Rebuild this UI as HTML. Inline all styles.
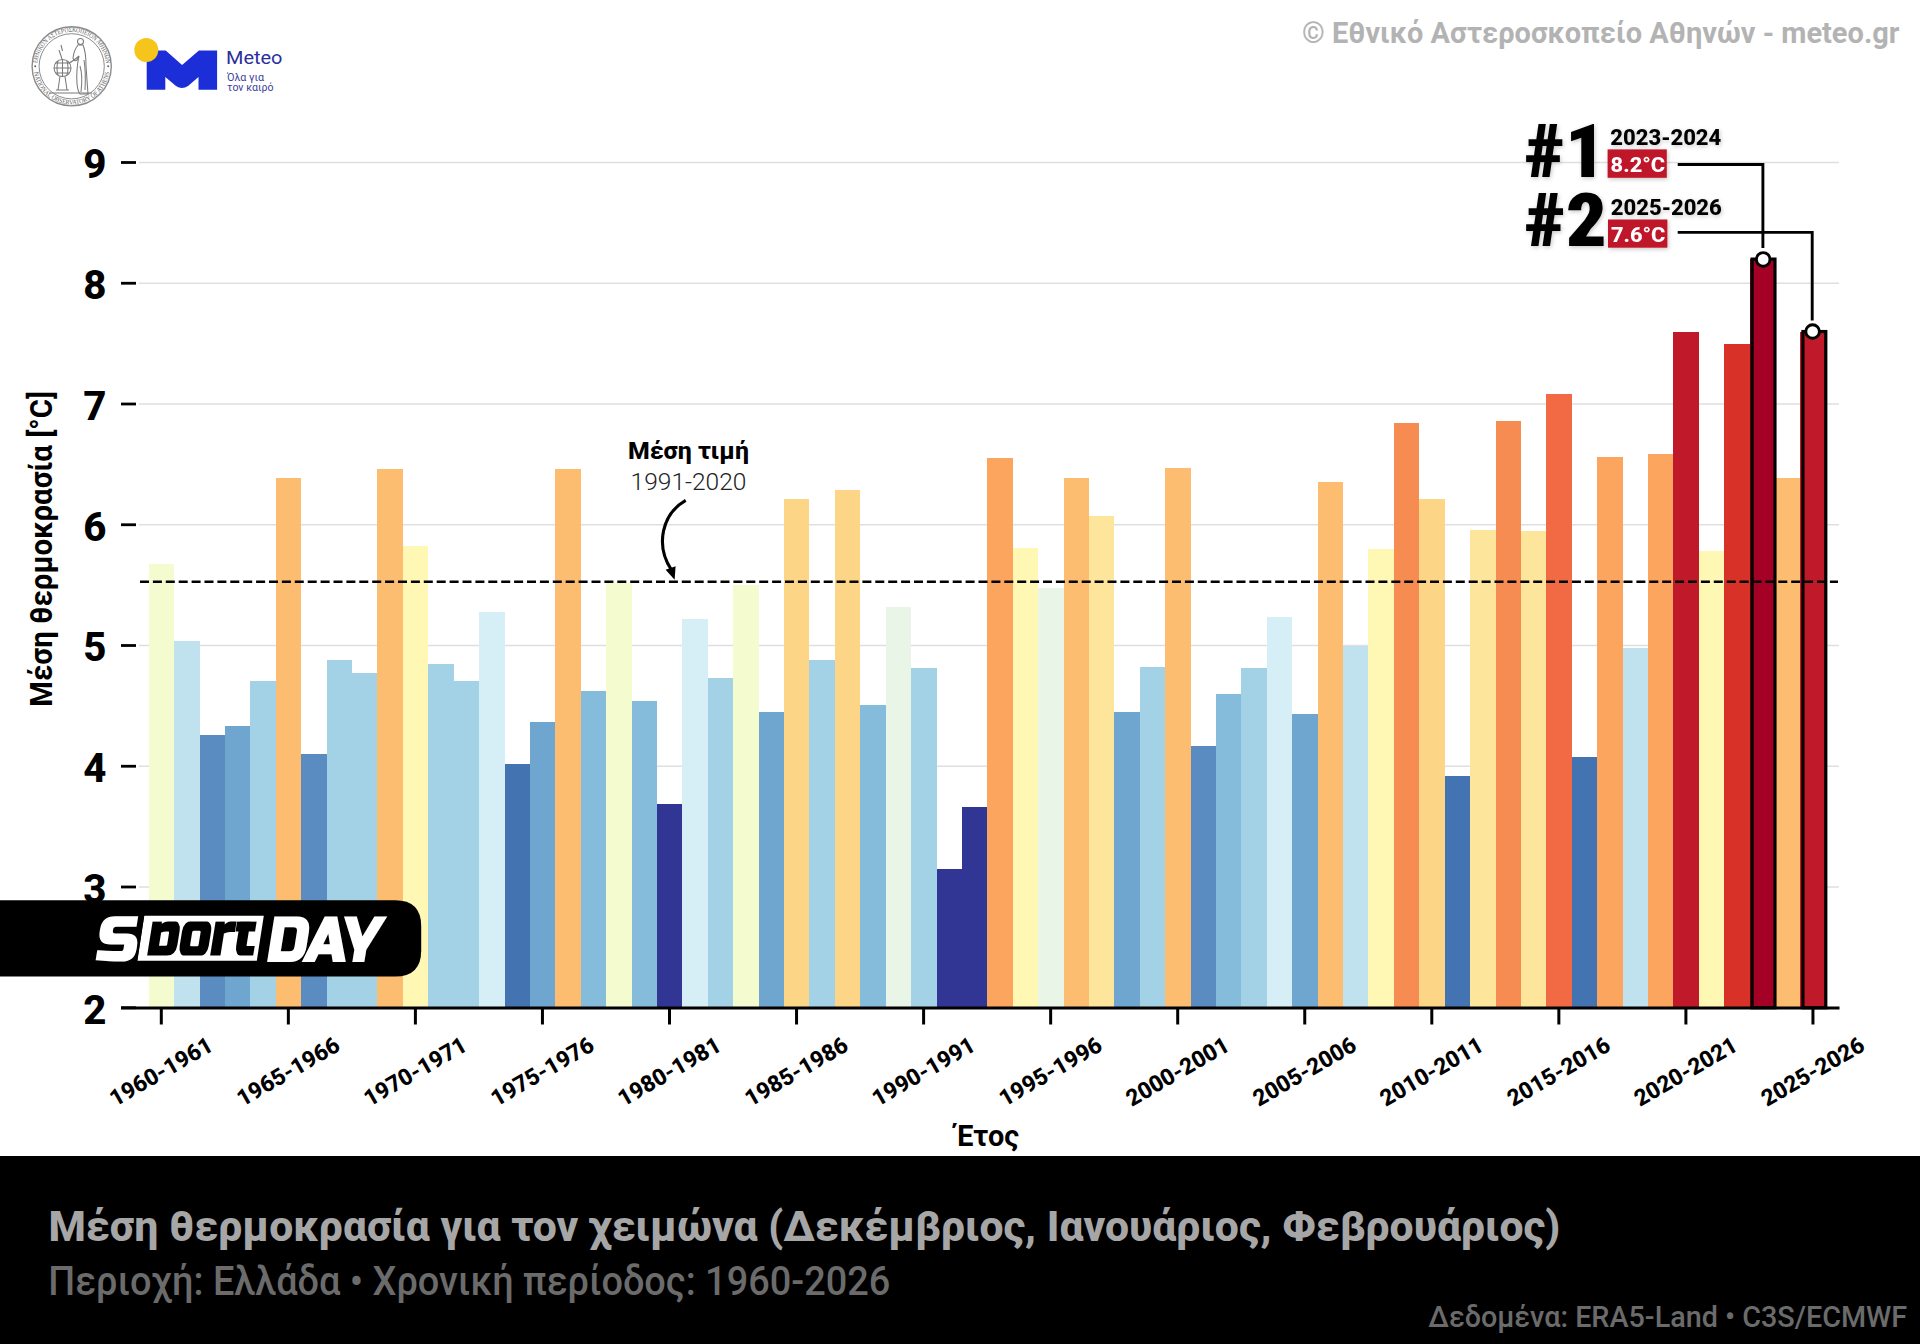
<!DOCTYPE html>
<html lang="el"><head><meta charset="utf-8"><title>Μέση θερμοκρασία χειμώνα</title>
<style>
html,body{margin:0;padding:0;background:#fff;}
body{width:1920px;height:1344px;overflow:hidden;position:relative;}
svg{position:absolute;left:0;top:0;display:block;}
.ytick{font-family:"Roboto","Liberation Sans",sans-serif;font-weight:800;font-size:40.5px;fill:#000;}
.xtick{font-family:"Roboto","Liberation Sans",sans-serif;font-weight:800;font-size:23px;fill:#000;}
.lab{font-family:"Roboto Condensed","Liberation Sans",sans-serif;font-weight:700;fill:#000;}
.rob{font-family:"Roboto","Liberation Sans",sans-serif;}
.robc{font-family:"Roboto Condensed","Liberation Sans",sans-serif;}
</style></head>
<body>
<svg width="1920" height="1344" viewBox="0 0 1920 1344">
<rect x="0" y="0" width="1920" height="1344" fill="#fff"/>
<line x1="139" y1="887.00" x2="1839" y2="887.00" stroke="#dfdfdf" stroke-width="1.6"/>
<line x1="139" y1="766.25" x2="1839" y2="766.25" stroke="#dfdfdf" stroke-width="1.6"/>
<line x1="139" y1="645.50" x2="1839" y2="645.50" stroke="#dfdfdf" stroke-width="1.6"/>
<line x1="139" y1="524.75" x2="1839" y2="524.75" stroke="#dfdfdf" stroke-width="1.6"/>
<line x1="139" y1="404.00" x2="1839" y2="404.00" stroke="#dfdfdf" stroke-width="1.6"/>
<line x1="139" y1="283.25" x2="1839" y2="283.25" stroke="#dfdfdf" stroke-width="1.6"/>
<line x1="139" y1="162.50" x2="1839" y2="162.50" stroke="#dfdfdf" stroke-width="1.6"/>
<rect x="148.79" y="563.99" width="25.41" height="443.76" fill="#f4fbcf" shape-rendering="crispEdges"/>
<rect x="174.20" y="640.67" width="25.41" height="367.08" fill="#bfe2ee" shape-rendering="crispEdges"/>
<rect x="199.61" y="734.86" width="25.41" height="272.89" fill="#5a8cc1" shape-rendering="crispEdges"/>
<rect x="225.03" y="726.40" width="25.41" height="281.35" fill="#6fa6cf" shape-rendering="crispEdges"/>
<rect x="250.43" y="680.52" width="25.41" height="327.23" fill="#a3d2e6" shape-rendering="crispEdges"/>
<rect x="275.85" y="477.66" width="25.41" height="530.09" fill="#fcbd71" shape-rendering="crispEdges"/>
<rect x="301.26" y="754.18" width="25.41" height="253.57" fill="#5a8cc1" shape-rendering="crispEdges"/>
<rect x="326.67" y="659.99" width="25.41" height="347.76" fill="#a3d2e6" shape-rendering="crispEdges"/>
<rect x="352.07" y="673.27" width="25.41" height="334.48" fill="#a3d2e6" shape-rendering="crispEdges"/>
<rect x="377.49" y="469.21" width="25.41" height="538.54" fill="#fcbd71" shape-rendering="crispEdges"/>
<rect x="402.90" y="546.48" width="25.41" height="461.27" fill="#fef8b4" shape-rendering="crispEdges"/>
<rect x="428.31" y="663.61" width="25.41" height="344.14" fill="#a3d2e6" shape-rendering="crispEdges"/>
<rect x="453.72" y="680.52" width="25.41" height="327.23" fill="#a3d2e6" shape-rendering="crispEdges"/>
<rect x="479.12" y="611.69" width="25.41" height="396.06" fill="#d6eef5" shape-rendering="crispEdges"/>
<rect x="504.54" y="763.84" width="25.41" height="243.91" fill="#4473b1" shape-rendering="crispEdges"/>
<rect x="529.94" y="721.57" width="25.41" height="286.18" fill="#6fa6cf" shape-rendering="crispEdges"/>
<rect x="555.35" y="469.21" width="25.41" height="538.54" fill="#fcbd71" shape-rendering="crispEdges"/>
<rect x="580.76" y="691.38" width="25.41" height="316.37" fill="#86bcdb" shape-rendering="crispEdges"/>
<rect x="606.17" y="582.71" width="25.41" height="425.04" fill="#f4fbcf" shape-rendering="crispEdges"/>
<rect x="631.58" y="701.05" width="25.41" height="306.70" fill="#86bcdb" shape-rendering="crispEdges"/>
<rect x="657.00" y="803.68" width="25.41" height="204.07" fill="#313695" shape-rendering="crispEdges"/>
<rect x="682.40" y="618.93" width="25.41" height="388.82" fill="#d6eef5" shape-rendering="crispEdges"/>
<rect x="707.81" y="678.10" width="25.41" height="329.65" fill="#a3d2e6" shape-rendering="crispEdges"/>
<rect x="733.22" y="585.12" width="25.41" height="422.62" fill="#f4fbcf" shape-rendering="crispEdges"/>
<rect x="758.63" y="711.91" width="25.41" height="295.84" fill="#6fa6cf" shape-rendering="crispEdges"/>
<rect x="784.04" y="499.39" width="25.41" height="508.36" fill="#fdd587" shape-rendering="crispEdges"/>
<rect x="809.45" y="659.99" width="25.41" height="347.76" fill="#a3d2e6" shape-rendering="crispEdges"/>
<rect x="834.87" y="489.73" width="25.41" height="518.02" fill="#fdd587" shape-rendering="crispEdges"/>
<rect x="860.27" y="704.67" width="25.41" height="303.08" fill="#86bcdb" shape-rendering="crispEdges"/>
<rect x="885.68" y="606.86" width="25.41" height="400.89" fill="#e9f5e6" shape-rendering="crispEdges"/>
<rect x="911.09" y="668.44" width="25.41" height="339.31" fill="#a3d2e6" shape-rendering="crispEdges"/>
<rect x="936.50" y="868.89" width="25.41" height="138.86" fill="#313695" shape-rendering="crispEdges"/>
<rect x="961.91" y="807.30" width="25.41" height="200.45" fill="#313695" shape-rendering="crispEdges"/>
<rect x="987.32" y="458.34" width="25.41" height="549.41" fill="#fca55e" shape-rendering="crispEdges"/>
<rect x="1012.74" y="547.69" width="25.41" height="460.06" fill="#fef8b4" shape-rendering="crispEdges"/>
<rect x="1038.14" y="587.54" width="25.41" height="420.21" fill="#e9f5e6" shape-rendering="crispEdges"/>
<rect x="1063.56" y="477.66" width="25.41" height="530.09" fill="#fcbd71" shape-rendering="crispEdges"/>
<rect x="1088.97" y="516.30" width="25.41" height="491.45" fill="#fde69b" shape-rendering="crispEdges"/>
<rect x="1114.38" y="711.91" width="25.41" height="295.84" fill="#6fa6cf" shape-rendering="crispEdges"/>
<rect x="1139.79" y="667.23" width="25.41" height="340.52" fill="#a3d2e6" shape-rendering="crispEdges"/>
<rect x="1165.20" y="468.00" width="25.41" height="539.75" fill="#fcbd71" shape-rendering="crispEdges"/>
<rect x="1190.61" y="745.72" width="25.41" height="262.03" fill="#5a8cc1" shape-rendering="crispEdges"/>
<rect x="1216.02" y="693.80" width="25.41" height="313.95" fill="#86bcdb" shape-rendering="crispEdges"/>
<rect x="1241.43" y="668.44" width="25.41" height="339.31" fill="#a3d2e6" shape-rendering="crispEdges"/>
<rect x="1266.84" y="616.52" width="25.41" height="391.23" fill="#d6eef5" shape-rendering="crispEdges"/>
<rect x="1292.25" y="714.33" width="25.41" height="293.42" fill="#6fa6cf" shape-rendering="crispEdges"/>
<rect x="1317.65" y="482.49" width="25.41" height="525.26" fill="#fcbd71" shape-rendering="crispEdges"/>
<rect x="1343.07" y="645.50" width="25.41" height="362.25" fill="#bfe2ee" shape-rendering="crispEdges"/>
<rect x="1368.48" y="548.90" width="25.41" height="458.85" fill="#fef8b4" shape-rendering="crispEdges"/>
<rect x="1393.88" y="423.32" width="25.41" height="584.43" fill="#f78c52" shape-rendering="crispEdges"/>
<rect x="1419.30" y="499.39" width="25.41" height="508.36" fill="#fdd587" shape-rendering="crispEdges"/>
<rect x="1444.71" y="775.91" width="25.41" height="231.84" fill="#4473b1" shape-rendering="crispEdges"/>
<rect x="1470.12" y="529.58" width="25.41" height="478.17" fill="#fde69b" shape-rendering="crispEdges"/>
<rect x="1495.53" y="420.90" width="25.41" height="586.85" fill="#f78c52" shape-rendering="crispEdges"/>
<rect x="1520.94" y="530.79" width="25.41" height="476.96" fill="#fde69b" shape-rendering="crispEdges"/>
<rect x="1546.35" y="394.34" width="25.41" height="613.41" fill="#f16a43" shape-rendering="crispEdges"/>
<rect x="1571.76" y="756.59" width="25.41" height="251.16" fill="#4473b1" shape-rendering="crispEdges"/>
<rect x="1597.17" y="457.13" width="25.41" height="550.62" fill="#fca55e" shape-rendering="crispEdges"/>
<rect x="1622.58" y="647.91" width="25.41" height="359.84" fill="#bfe2ee" shape-rendering="crispEdges"/>
<rect x="1647.99" y="453.51" width="25.41" height="554.24" fill="#fca55e" shape-rendering="crispEdges"/>
<rect x="1673.39" y="331.55" width="25.41" height="676.20" fill="#c0192a" shape-rendering="crispEdges"/>
<rect x="1698.81" y="551.32" width="25.41" height="456.43" fill="#fef8b4" shape-rendering="crispEdges"/>
<rect x="1724.22" y="343.62" width="25.41" height="664.12" fill="#d83127" shape-rendering="crispEdges"/>
<rect x="1749.62" y="259.10" width="25.41" height="748.65" fill="#a50026" shape-rendering="crispEdges"/>
<rect x="1775.04" y="477.66" width="25.41" height="530.09" fill="#fcbd71" shape-rendering="crispEdges"/>
<rect x="1800.45" y="331.55" width="25.41" height="676.20" fill="#c0192a" shape-rendering="crispEdges"/>
<rect x="1752.10" y="259.10" width="22.87" height="748.65" fill="#a50026" stroke="#000" stroke-width="3.2"/>
<rect x="1802.92" y="331.55" width="22.87" height="676.20" fill="#c0192a" stroke="#000" stroke-width="3.2"/>
<line x1="140" y1="581.7" x2="1838" y2="581.7" stroke="#000" stroke-width="2.6" stroke-dasharray="9 3.9"/>
<line x1="121" y1="1008" x2="1839.5" y2="1008" stroke="#000" stroke-width="3"/>
<line x1="161.30" y1="1008" x2="161.30" y2="1024.5" stroke="#000" stroke-width="3"/>
<line x1="288.35" y1="1008" x2="288.35" y2="1024.5" stroke="#000" stroke-width="3"/>
<line x1="415.40" y1="1008" x2="415.40" y2="1024.5" stroke="#000" stroke-width="3"/>
<line x1="542.45" y1="1008" x2="542.45" y2="1024.5" stroke="#000" stroke-width="3"/>
<line x1="669.50" y1="1008" x2="669.50" y2="1024.5" stroke="#000" stroke-width="3"/>
<line x1="796.55" y1="1008" x2="796.55" y2="1024.5" stroke="#000" stroke-width="3"/>
<line x1="923.60" y1="1008" x2="923.60" y2="1024.5" stroke="#000" stroke-width="3"/>
<line x1="1050.65" y1="1008" x2="1050.65" y2="1024.5" stroke="#000" stroke-width="3"/>
<line x1="1177.70" y1="1008" x2="1177.70" y2="1024.5" stroke="#000" stroke-width="3"/>
<line x1="1304.75" y1="1008" x2="1304.75" y2="1024.5" stroke="#000" stroke-width="3"/>
<line x1="1431.80" y1="1008" x2="1431.80" y2="1024.5" stroke="#000" stroke-width="3"/>
<line x1="1558.85" y1="1008" x2="1558.85" y2="1024.5" stroke="#000" stroke-width="3"/>
<line x1="1685.90" y1="1008" x2="1685.90" y2="1024.5" stroke="#000" stroke-width="3"/>
<line x1="1812.95" y1="1008" x2="1812.95" y2="1024.5" stroke="#000" stroke-width="3"/>
<line x1="121" y1="1007.75" x2="136" y2="1007.75" stroke="#000" stroke-width="2.8"/>
<line x1="121" y1="887.00" x2="136" y2="887.00" stroke="#000" stroke-width="2.8"/>
<line x1="121" y1="766.25" x2="136" y2="766.25" stroke="#000" stroke-width="2.8"/>
<line x1="121" y1="645.50" x2="136" y2="645.50" stroke="#000" stroke-width="2.8"/>
<line x1="121" y1="524.75" x2="136" y2="524.75" stroke="#000" stroke-width="2.8"/>
<line x1="121" y1="404.00" x2="136" y2="404.00" stroke="#000" stroke-width="2.8"/>
<line x1="121" y1="283.25" x2="136" y2="283.25" stroke="#000" stroke-width="2.8"/>
<line x1="121" y1="162.50" x2="136" y2="162.50" stroke="#000" stroke-width="2.8"/>
<text x="83.3" y="1023.55" class="ytick" textLength="23.2" lengthAdjust="spacingAndGlyphs">2</text>
<text x="83.3" y="902.80" class="ytick" textLength="23.2" lengthAdjust="spacingAndGlyphs">3</text>
<text x="83.3" y="782.05" class="ytick" textLength="23.2" lengthAdjust="spacingAndGlyphs">4</text>
<text x="83.3" y="661.30" class="ytick" textLength="23.2" lengthAdjust="spacingAndGlyphs">5</text>
<text x="83.3" y="540.55" class="ytick" textLength="23.2" lengthAdjust="spacingAndGlyphs">6</text>
<text x="83.3" y="419.80" class="ytick" textLength="23.2" lengthAdjust="spacingAndGlyphs">7</text>
<text x="83.3" y="299.05" class="ytick" textLength="23.2" lengthAdjust="spacingAndGlyphs">8</text>
<text x="83.3" y="178.30" class="ytick" textLength="23.2" lengthAdjust="spacingAndGlyphs">9</text>
<text x="160.90" y="1079.40" text-anchor="middle" class="xtick" textLength="114.6" lengthAdjust="spacingAndGlyphs" transform="rotate(-30 160.90 1071.20)">1960-1961</text>
<text x="287.95" y="1079.40" text-anchor="middle" class="xtick" textLength="114.6" lengthAdjust="spacingAndGlyphs" transform="rotate(-30 287.95 1071.20)">1965-1966</text>
<text x="415.00" y="1079.40" text-anchor="middle" class="xtick" textLength="114.6" lengthAdjust="spacingAndGlyphs" transform="rotate(-30 415.00 1071.20)">1970-1971</text>
<text x="542.05" y="1079.40" text-anchor="middle" class="xtick" textLength="114.6" lengthAdjust="spacingAndGlyphs" transform="rotate(-30 542.05 1071.20)">1975-1976</text>
<text x="669.10" y="1079.40" text-anchor="middle" class="xtick" textLength="114.6" lengthAdjust="spacingAndGlyphs" transform="rotate(-30 669.10 1071.20)">1980-1981</text>
<text x="796.15" y="1079.40" text-anchor="middle" class="xtick" textLength="114.6" lengthAdjust="spacingAndGlyphs" transform="rotate(-30 796.15 1071.20)">1985-1986</text>
<text x="923.20" y="1079.40" text-anchor="middle" class="xtick" textLength="114.6" lengthAdjust="spacingAndGlyphs" transform="rotate(-30 923.20 1071.20)">1990-1991</text>
<text x="1050.25" y="1079.40" text-anchor="middle" class="xtick" textLength="114.6" lengthAdjust="spacingAndGlyphs" transform="rotate(-30 1050.25 1071.20)">1995-1996</text>
<text x="1177.30" y="1079.40" text-anchor="middle" class="xtick" textLength="114.6" lengthAdjust="spacingAndGlyphs" transform="rotate(-30 1177.30 1071.20)">2000-2001</text>
<text x="1304.35" y="1079.40" text-anchor="middle" class="xtick" textLength="114.6" lengthAdjust="spacingAndGlyphs" transform="rotate(-30 1304.35 1071.20)">2005-2006</text>
<text x="1431.40" y="1079.40" text-anchor="middle" class="xtick" textLength="114.6" lengthAdjust="spacingAndGlyphs" transform="rotate(-30 1431.40 1071.20)">2010-2011</text>
<text x="1558.45" y="1079.40" text-anchor="middle" class="xtick" textLength="114.6" lengthAdjust="spacingAndGlyphs" transform="rotate(-30 1558.45 1071.20)">2015-2016</text>
<text x="1685.50" y="1079.40" text-anchor="middle" class="xtick" textLength="114.6" lengthAdjust="spacingAndGlyphs" transform="rotate(-30 1685.50 1071.20)">2020-2021</text>
<text x="1812.55" y="1079.40" text-anchor="middle" class="xtick" textLength="114.6" lengthAdjust="spacingAndGlyphs" transform="rotate(-30 1812.55 1071.20)">2025-2026</text>
<!-- y label -->
<text class="rob" font-weight="700" font-size="30.5" text-anchor="middle" textLength="316" lengthAdjust="spacingAndGlyphs" transform="translate(51.6 548.8) rotate(-90)">Μέση θερμοκρασία [°C]</text>
<!-- x label -->
<text class="rob" font-weight="700" font-size="30" x="955.7" y="1145.7" textLength="63.5" lengthAdjust="spacingAndGlyphs">Έτος</text>

<!-- mean annotation -->
<text class="rob" font-weight="800" font-size="24.5" x="688.4" y="458.8" textLength="121" lengthAdjust="spacingAndGlyphs" text-anchor="middle" fill="#000">Μέση τιμή</text>
<text class="rob" font-weight="300" font-size="24.5" x="688.5" y="490.3" text-anchor="middle" textLength="115.8" lengthAdjust="spacingAndGlyphs" fill="#222">1991-2020</text>
<path d="M685.7 500.4 C 662 514, 655 545, 671.5 570" fill="none" stroke="#000" stroke-width="3.1"/>
<path d="M674.6 579.8 L665.6 569.8 L675.6 566.2 Z" fill="#000"/>

<!-- rank annotations -->
<defs><filter id="sh" x="-20%" y="-20%" width="140%" height="140%"><feDropShadow dx="1" dy="1.5" stdDeviation="2" flood-color="#000" flood-opacity="0.22"/></filter></defs>
<g filter="url(#sh)">
<text class="robc" font-weight="900" font-size="74" x="1524.5" y="176.9" fill="#000" textLength="81" lengthAdjust="spacingAndGlyphs">#1</text>
<text class="robc" font-weight="900" font-size="74" x="1524.5" y="246.2" fill="#000" textLength="82.5" lengthAdjust="spacingAndGlyphs">#2</text>
<text class="rob" font-weight="800" font-size="22" x="1610.3" y="145" textLength="111" lengthAdjust="spacingAndGlyphs" fill="#000">2023-2024</text>
<text class="rob" font-weight="800" font-size="22" x="1610.8" y="214.7" textLength="111" lengthAdjust="spacingAndGlyphs" fill="#000">2025-2026</text>
<rect x="1607.6" y="149.4" width="59.2" height="28.4" fill="#c0172b"/>
<rect x="1608" y="219.5" width="59.4" height="28.2" fill="#c0172b"/>
<text class="rob" font-weight="800" font-size="21" x="1610.6" y="171.7" fill="#fff" textLength="54.5" lengthAdjust="spacingAndGlyphs">8.2°C</text>
<text class="rob" font-weight="800" font-size="21" x="1610.9" y="242" fill="#fff" textLength="54.5" lengthAdjust="spacingAndGlyphs">7.6°C</text>
</g>
<polyline points="1677.7,164.5 1762.9,164.5 1762.9,248" fill="none" stroke="#000" stroke-width="2.9"/>
<polyline points="1677.7,232.4 1812.2,232.4 1812.2,320.5" fill="none" stroke="#000" stroke-width="2.9"/>
<circle cx="1763.2" cy="259.4" r="6.8" fill="#fff" stroke="#000" stroke-width="2.9"/>
<circle cx="1812.6" cy="331.5" r="6.8" fill="#fff" stroke="#000" stroke-width="2.9"/>

<!-- top right credit -->
<text class="rob" font-weight="700" font-size="29" x="1302" y="42.5" fill="#b3b3b3" textLength="597.5" lengthAdjust="spacingAndGlyphs">© Εθνικό Αστεροσκοπείο Αθηνών - meteo.gr</text>

<!-- NOA seal -->
<defs>
<path id="arcTop" d="M37.3 66.3 A34.4 34.4 0 0 1 106.1 66.3"/>
<path id="arcBot" d="M33.5 66.3 A38.2 38.2 0 0 0 109.9 66.3"/>
</defs>
<g fill="none" stroke="#8c8c8c">
<circle cx="71.7" cy="66.3" r="39.6" stroke-width="1.4"/>
<circle cx="71.7" cy="66.3" r="32.6" stroke-width="1"/>
</g>
<g font-family="'Liberation Serif',serif" font-size="6.6" fill="#5e5e5e" >
<text><textPath href="#arcTop" startOffset="3" textLength="102" lengthAdjust="spacingAndGlyphs">ΕΘΝΙΚΟΝ ΑΣΤΕΡΟΣΚΟΠΕΙΟΝ ΑΘΗΝΩΝ</textPath></text>
<text><textPath href="#arcBot" startOffset="6" textLength="108" lengthAdjust="spacingAndGlyphs">NATIONAL OBSERVATORY OF ATHENS</textPath></text>
</g>
<circle cx="35.2" cy="66.3" r="1" fill="#666"/>
<circle cx="108.2" cy="66.3" r="1" fill="#666"/>
<g fill="none" stroke="#7a7a7a" stroke-width="1.05">
<circle cx="62.5" cy="68" r="8.5"/>
<path d="M54 68 H71 M55.5 63 H69.5 M55.5 73 H69.5 M62.5 59.5 V76.5 M58 61 Q56 68 58 75 M67 61 Q69 68 67 75"/>
<path d="M60 76.5 L58 90 M65 76.5 L67 90 M56 90 H69 M59 50 L62 59 M62.5 51 L61 45"/>
<circle cx="80.5" cy="41.5" r="3" />
<path d="M78 45 Q74 50 73 58 Q74 62 77 60 L79 56 Q76 70 77 84 Q78 92 80 94 L88 94 Q87 80 86 66 Q86 52 83 45 Z"/>
<path d="M79 56 Q72 62 69 63 M80 66 Q83 76 81 92 M84 60 Q86 72 85 90"/>
<path d="M49 93 H92"/>
</g>
<!-- Meteo logo -->
<path d="M146.7 50.4 L165.7 50.4 L182.1 65 L198.9 50.4 L217.1 50.4 L217.1 89.8 L198.5 89.8 L198.5 77 L188 86 Q182 90 176 86 L165.3 77 L165.3 89.8 L146.7 89.8 Z" fill="#1c2ed8"/>
<circle cx="146.3" cy="49.9" r="12" fill="#f5c51c"/>
<text font-family="Roboto, 'Liberation Sans', sans-serif" font-size="18" x="226" y="64.1" fill="#2b2f9c" textLength="56.5" lengthAdjust="spacingAndGlyphs">Meteo</text>
<text font-family="Roboto, 'Liberation Sans', sans-serif" font-size="10.5" x="227" y="80.5" fill="#3a3fa0" textLength="37" lengthAdjust="spacingAndGlyphs">Όλα για</text>
<text font-family="Roboto, 'Liberation Sans', sans-serif" font-size="10.5" x="227" y="90.5" fill="#3a3fa0" textLength="46.5" lengthAdjust="spacingAndGlyphs">τον καιρό</text>

<!-- sportDAY -->
<path d="M0 900.2 L395 900.2 Q421.2 900.2 421.2 926 L421.2 950.5 Q421.2 976.6 395 976.6 L0 976.6 Z" fill="#000"/>
<path d="M144.2 915.8 L263.8 915.8 L256.8 960.8 L137.2 960.8 Z" fill="#fff"/>
<clipPath id="bandclip"><path d="M144.2 921.5 L263.8 921.5 L256.8 955.5 L137.2 955.5 Z"/></clipPath>
<g transform="matrix(1 0 -0.16 1 150.4 0)" font-family="'Russo One','Liberation Sans',sans-serif" font-weight="700">
<text x="97.5" y="960.2" font-size="61" fill="#fff" textLength="41.5" lengthAdjust="spacingAndGlyphs">S</text>
<text x="148" y="955.5" font-size="62" fill="#000" textLength="108" lengthAdjust="spacingAndGlyphs" clip-path="url(#bandclip)">port</text>
<text x="268" y="961" font-size="62" fill="#fff" textLength="113" lengthAdjust="spacingAndGlyphs">DAY</text>
</g>
<line x1="143.4" y1="914.5" x2="136.2" y2="962" stroke="#000" stroke-width="2"/>
<!-- footer -->
<rect x="0" y="1156" width="1920" height="188" fill="#000"/>
<text class="rob" font-weight="800" font-size="42.5" x="48.4" y="1240.6" fill="#a6a6a6" textLength="1511.8" lengthAdjust="spacingAndGlyphs">Μέση θερμοκρασία για τον χειμώνα (Δεκέμβριος, Ιανουάριος, Φεβρουάριος)</text>
<text class="rob" font-weight="500" font-size="40" x="48.3" y="1295.3" fill="#6b6b6b" textLength="842" lengthAdjust="spacingAndGlyphs">Περιοχή: Ελλάδα • Χρονική περίοδος: 1960-2026</text>
<text class="rob" font-weight="500" font-size="30.4" x="1428.2" y="1327.3" fill="#6b6b6b" textLength="479" lengthAdjust="spacingAndGlyphs">Δεδομένα: ERA5-Land • C3S/ECMWF</text>
</svg>
</body></html>
